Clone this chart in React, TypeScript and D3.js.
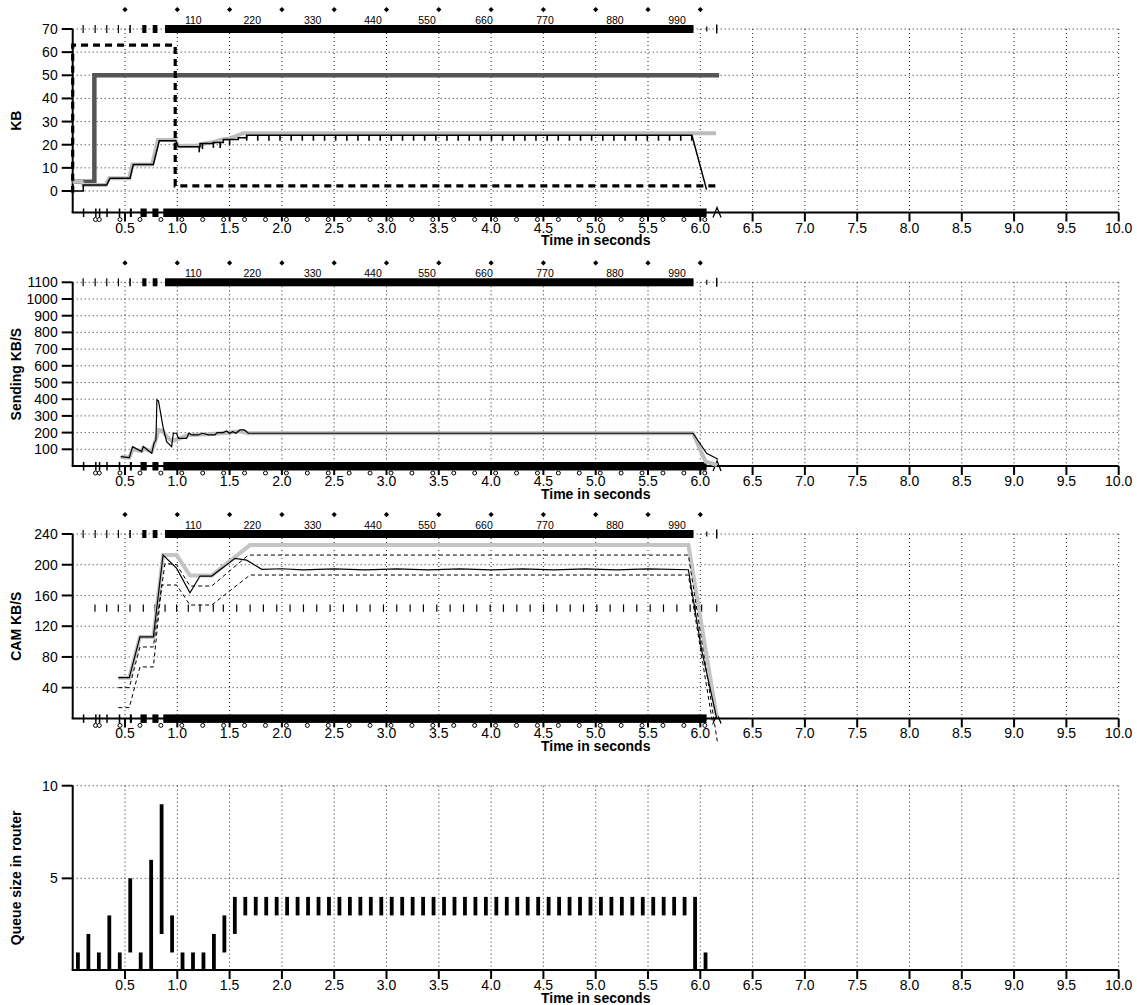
import React from 'react';
import * as d3 from 'd3';

type P = [number, number];
const FONT = '"Liberation Sans", Arial, Helvetica, sans-serif';
const W = 1137, H = 1005;

// ---------- axis ticks ----------
const timeTicks = [0.5, 1, 1.5, 2, 2.5, 3, 3.5, 4, 4.5, 5, 5.5, 6, 6.5, 7, 7.5, 8, 8.5, 9, 9.5, 10];
const kbTicks = [0, 10, 20, 30, 40, 50, 60, 70];
const sendTicks = [100, 200, 300, 400, 500, 600, 700, 800, 900, 1000, 1100];
const camTicks = [40, 80, 120, 160, 200, 240];
const queueTicks = [5, 10];

// ---------- top sequence axis ----------
const diamondTimes = [0.5, 1, 1.5, 2, 2.5, 3, 3.5, 4, 4.5, 5, 5.5, 6];
const seqLabels = ['110', '220', '330', '440', '550', '660', '770', '880', '990'];
const seqLabelTimes = [1.153, 1.717, 2.294, 2.871, 3.387, 3.932, 4.515, 5.184, 5.777];

// packet bands (time intervals)
const topBandSegments: P[] = [[0.094, 0.103], [0.209, 0.217], [0.32, 0.33], [0.431, 0.441], [0.541, 0.556], [0.665, 0.705], [0.765, 0.81], [0.883, 5.935]];
const topBandExtra = [6.062, 6.157];
const bottomBandSegments: P[] = [[0.097, 0.105], [0.214, 0.222], [0.25, 0.258], [0.321, 0.329], [0.44, 0.455], [0.546, 0.566], [0.648, 0.708], [0.762, 0.82], [0.866, 6.06]];
const ackCircleTimes = [0.218, 0.254, 0.452, 0.643, 0.843, 1.043, 1.243, 1.443, 1.643, 1.843, 2.043, 2.243, 2.443, 2.643, 2.843, 3.043, 3.243, 3.443, 3.643, 3.843, 4.043, 4.243, 4.443, 4.643, 4.843, 5.043, 5.243, 5.443, 5.643, 5.843, 6.043];
const finTime = 6.16;

// ---------- panel 1: KB ----------
const kbRwnd: P[] = [[0, 4], [0.207, 4], [0.207, 50], [6.18, 50]];
const kbFlight: P[] = [[0, 4], [0.085, 4], [0.1, 2.6], [0.315, 2.6], [0.35, 5.5], [0.54, 5.5], [0.57, 11.5], [0.76, 11.5], [0.815, 22], [0.98, 22], [1.01, 19.4], [1.2, 19.7], [1.26, 20.5], [1.35, 21.2], [1.42, 22.2], [1.5, 22.7], [1.56, 23.7], [1.63, 25], [6.15, 25]];
const kbCwnd: P[] = [[0, 0], [0.101, 0], [0.101, 2.6], [0.325, 2.6], [0.357, 5.5], [0.548, 5.5], [0.58, 11.5], [0.771, 11.5], [0.828, 21.7], [0.985, 21.7], [1.01, 19.1], [1.217, 19.1], [1.217, 20.5], [1.344, 20.5], [1.344, 21], [1.44, 21], [1.44, 22.3], [1.583, 22.3], [1.583, 23], [1.663, 23], [1.663, 24.1], [5.92, 24.1], [6.06, 0.6]];
const kbSsthresh: P[] = [[0, -0.8], [0, 63], [0.98, 63], [0.98, 2.2], [6.15, 2.2]];
const kbAckTicks = [1.21, 1.24, 1.345, 1.41, 1.5, 1.663, 1.769, 1.876, 1.982, 2.089, 2.195, 2.301, 2.408, 2.514, 2.621, 2.727, 2.833, 2.94, 3.046, 3.153, 3.259, 3.365, 3.472, 3.578, 3.685, 3.791, 3.897, 4.004, 4.11, 4.217, 4.323, 4.429, 4.536, 4.642, 4.749, 4.855, 4.961, 5.068, 5.174, 5.281, 5.387, 5.493, 5.6, 5.706, 5.813, 5.918];

// ---------- panel 2: Sending KB/S ----------
const sendRate: P[] = [[0.459, 56], [0.541, 50], [0.573, 116], [0.659, 86], [0.675, 116], [0.755, 76], [0.777, 136], [0.796, 156], [0.805, 396], [0.82, 390], [0.866, 226], [0.898, 146], [0.946, 116], [0.962, 196], [0.994, 196], [1.01, 166], [1.09, 166], [1.11, 196], [1.14, 186], [1.2, 186], [1.24, 196], [1.3, 186], [1.36, 186], [1.38, 200], [1.44, 200], [1.47, 210], [1.5, 196], [1.53, 206], [1.56, 196], [1.6, 216], [1.64, 216], [1.68, 196], [5.93, 196], [6.06, 76], [6.17, 40]];
const sendRateAvg: P[] = [[0.459, 56], [0.541, 50], [0.573, 100], [0.659, 90], [0.675, 106], [0.755, 86], [0.79, 150], [0.82, 216], [0.86, 210], [0.9, 175], [0.95, 150], [1.0, 160], [1.05, 172], [1.1, 185], [1.3, 190], [1.5, 200], [1.6, 208], [1.68, 196], [5.93, 196], [6.05, 26], [6.16, 6]];

// ---------- panel 3: CAM KB/S ----------
const camTarget: P[] = [[0.436, 53], [0.541, 53], [0.643, 106], [0.771, 106], [0.864, 212.6], [0.994, 212.6], [1.121, 186], [1.329, 186], [1.695, 225.6], [5.886, 225.6], [6.157, 2]];
const camRate: P[] = [[0.436, 53], [0.541, 53], [0.643, 106], [0.771, 106], [0.864, 212.6], [0.994, 195.3], [1.121, 163.6], [1.217, 185.3], [1.329, 185.3], [1.552, 208.3], [1.663, 206], [1.807, 194], [2.0, 194.8], [2.2, 193.2], [2.5, 194.6], [2.8, 193.2], [3.1, 194.6], [3.4, 193.2], [3.7, 194.6], [4.0, 193.2], [4.3, 194.6], [4.6, 193.2], [4.9, 194.6], [5.2, 193.2], [5.5, 194.6], [5.886, 193.5], [6.013, 89], [6.157, 0]];
const camUpper: P[] = [[0.436, 40], [0.541, 40], [0.643, 93], [0.771, 93], [0.882, 201.8], [0.994, 200], [1.121, 172.3], [1.329, 172.3], [1.68, 212.6], [5.886, 212.6], [6.165, -32]];
const camLower: P[] = [[0.436, 14], [0.541, 14], [0.643, 67], [0.771, 67], [0.851, 173.6], [0.994, 173.6], [1.121, 147.6], [1.329, 147.6], [1.695, 186.6], [5.886, 186.6], [6.12, -8]];
const camFrameLevel = 143.5;
const camFrameTimes = [0.213, 0.325, 0.436, 0.548, 0.675, 0.787, 0.883, 0.994, 1.105, 1.217, 1.344, 1.44, 1.568, 1.696, 1.823, 1.951, 2.078, 2.206, 2.333, 2.461, 2.588, 2.716, 2.843, 2.971, 3.098, 3.226, 3.353, 3.481, 3.608, 3.736, 3.863, 3.991, 4.118, 4.246, 4.373, 4.501, 4.628, 4.756, 4.883, 5.011, 5.138, 5.266, 5.393, 5.521, 5.648, 5.776, 5.903, 5.95, 6.013, 6.157];

// ---------- panel 4: queue ----------
const queueTimes = [0.05, 0.15, 0.25, 0.35, 0.45, 0.55, 0.65, 0.75, 0.85, 0.95, 1.05, 1.15, 1.25, 1.35, 1.45, 1.55, 1.65, 1.75, 1.85, 1.95, 2.05, 2.15, 2.25, 2.35, 2.45, 2.55, 2.65, 2.75, 2.85, 2.95, 3.05, 3.15, 3.25, 3.35, 3.45, 3.55, 3.65, 3.75, 3.85, 3.95, 4.05, 4.15, 4.25, 4.35, 4.45, 4.55, 4.65, 4.75, 4.85, 4.95, 5.05, 5.15, 5.25, 5.35, 5.45, 5.55, 5.65, 5.75, 5.85, 5.95, 6.05];
const queueLow = [0, 0, 0, 0, 0, 1, 0, 0, 2, 1, 0, 0, 0, 0, 1, 2, 3, 3, 3, 3, 3, 3, 3, 3, 3, 3, 3, 3, 3, 3, 3, 3, 3, 3, 3, 3, 3, 3, 3, 3, 3, 3, 3, 3, 3, 3, 3, 3, 3, 3, 3, 3, 3, 3, 3, 3, 3, 3, 3, 0, 0];
const queueHigh = [1, 2, 1, 3, 1, 5, 1, 6, 9, 3, 1, 1, 1, 2, 3, 4, 4, 4, 4, 4, 4, 4, 4, 4, 4, 4, 4, 4, 4, 4, 4, 4, 4, 4, 4, 4, 4, 4, 4, 4, 4, 4, 4, 4, 4, 4, 4, 4, 4, 4, 4, 4, 4, 4, 4, 4, 4, 4, 4, 4, 1];

// ---------- scales ----------
const x = d3.scaleLinear().domain([0, 10]).range([72.7, 1118.7]);
const X0 = x(0), X1 = x(10);

const y1 = d3.scaleLinear().domain([0, 70]).range([191, 29]);
const y2 = d3.scaleLinear().domain([0, 1100]).range([466, 282.3]);
const y3 = d3.scaleLinear().domain([0, 240]).range([718.4, 534]);
const y4 = d3.scaleLinear().domain([0, 10]).range([971, 785.7]);

const fmt = d3.format('.1f');

function valueAt(series: P[], t: number): number {
  for (let i = series.length - 1; i >= 0; i--) {
    if (series[i][0] <= t) {
      const a = series[i], b = series[i + 1];
      if (!b || b[0] === a[0]) return a[1];
      return a[1] + (b[1] - a[1]) * (t - a[0]) / (b[0] - a[0]);
    }
  }
  return series[0][1];
}

function linePath(y: d3.ScaleLinear<number, number>, data: P[]) {
  return d3.line<P>().x(d => x(d[0])).y(d => y(d[1]))(data) || '';
}

function Frame({ y, yTicks, top, axisY, label, showDecor }: { y: d3.ScaleLinear<number, number>; yTicks: number[]; top: number; axisY: number; label: string; showDecor: boolean }) {
  const midY = (top + axisY) / 2;
  return (
    <g>
      {/* grid */}
      {timeTicks.map(t => (
        <line key={'gv' + t} x1={x(t)} x2={x(t)} y1={top} y2={axisY} stroke="#222" strokeWidth={1} strokeDasharray="1 3" />
      ))}
      {yTicks.map(v => (
        <line key={'gh' + v} x1={X0} x2={X1} y1={y(v)} y2={y(v)} stroke="#222" strokeWidth={1} strokeDasharray="1 3" />
      ))}
      {/* y axis */}
      <line x1={X0} x2={X0} y1={top} y2={axisY} stroke="#000" strokeWidth={2} />
      {yTicks.map(v => (
        <g key={'yt' + v}>
          <line x1={X0 - 11} x2={X0} y1={y(v)} y2={y(v)} stroke="#000" strokeWidth={2} />
          <text x={X0 - 15} y={y(v)} dy="0.36em" textAnchor="end" fontSize={14} fontFamily={FONT}>{v}</text>
        </g>
      ))}
      <text transform={`translate(21,${midY}) rotate(-90)`} textAnchor="middle" fontSize={14} fontWeight="bold" fontFamily={FONT}>{label}</text>
      {/* x axis */}
      <line x1={X0 - 1} x2={X1} y1={axisY} y2={axisY} stroke="#000" strokeWidth={2} />
      {timeTicks.map(t => (
        <g key={'xt' + t}>
          <line x1={x(t)} x2={x(t)} y1={axisY} y2={axisY + 9} stroke="#000" strokeWidth={2} />
          <text x={x(t)} y={axisY + 20} textAnchor="middle" fontSize={14} fontFamily={FONT}>{fmt(t)}</text>
        </g>
      ))}
      <text x={(X0 + X1) / 2} y={axisY + 32.5} textAnchor="middle" fontSize={14} fontWeight="bold" fontFamily={FONT}>Time in seconds</text>
      {showDecor && (
        <g>
          {diamondTimes.map(t => (
            <path key={'dm' + t} d={`M${x(t)},${top - 22} l2.6,2.6 l-2.6,2.6 l-2.6,-2.6 z`} fill="#000" />
          ))}
          {seqLabels.map((s, i) => (
            <text key={'sl' + s} x={x(seqLabelTimes[i])} y={top - 5} textAnchor="middle" fontSize={10.5} fontFamily={FONT}>{s}</text>
          ))}
          {topBandSegments.map((s, i) => (
            <rect key={'tb' + i} x={x(s[0])} y={top - 4} width={Math.max(1.2, x(s[1]) - x(s[0]))} height={8} fill="#000" />
          ))}
          <line x1={x(topBandExtra[0])} x2={x(topBandExtra[0])} y1={top - 2.5} y2={top + 2.5} stroke="#000" strokeWidth={1.2} />
          <line x1={x(topBandExtra[1])} x2={x(topBandExtra[1])} y1={top - 4.5} y2={top + 4.5} stroke="#000" strokeWidth={1.4} />
          {bottomBandSegments.map((s, i) => (
            <rect key={'bb' + i} x={x(s[0])} y={axisY - 4} width={Math.max(1.5, x(s[1]) - x(s[0]))} height={8.5} fill="#000" />
          ))}
          {ackCircleTimes.map((t, i) => (
            <circle key={'ac' + i} cx={x(t)} cy={axisY + 7} r={2} fill="#fff" stroke="#000" strokeWidth={1} />
          ))}
          <path d={`M${x(finTime) - 4},${axisY + 5} L${x(finTime)},${axisY - 5} L${x(finTime) + 4},${axisY + 5}`} fill="none" stroke="#000" strokeWidth={1.3} />
        </g>
      )}
    </g>
  );
}

export default function App() {
  const ax1 = 212.5, ax2 = 466, ax3 = 718.4, ax4 = 970;
  return (
    <svg width={W} height={H} viewBox={`0 0 ${W} ${H}`} style={{ position: 'absolute', left: 0, top: 0, background: '#fff' }}>
      <rect x={0} y={0} width={W} height={H} fill="#fff" />

      {/* Panel 1 */}
      <Frame y={y1} yTicks={kbTicks} top={y1(70)} axisY={ax1} label="KB" showDecor={true} />
      <path d={linePath(y1, kbRwnd)} fill="none" stroke="#555" strokeWidth={4.5} />
      <path d={linePath(y1, kbFlight)} fill="none" stroke="#bdbdbd" strokeWidth={4} />
      <path d={linePath(y1, kbCwnd)} fill="none" stroke="#000" strokeWidth={1.5} />
      {kbAckTicks.map((t, i) => {
        const v = valueAt(kbCwnd, t);
        return <line key={'ak' + i} x1={x(t)} x2={x(t)} y1={y1(v)} y2={y1(v) + 5.5} stroke="#000" strokeWidth={1.6} />;
      })}
      <path d={linePath(y1, kbSsthresh)} fill="none" stroke="#000" strokeWidth={3.2} strokeDasharray="7 5" />

      {/* Panel 2 */}
      <Frame y={y2} yTicks={sendTicks} top={y2(1100)} axisY={ax2} label="Sending  KB/S" showDecor={true} />
      <path d={linePath(y2, sendRateAvg)} fill="none" stroke="#bdbdbd" strokeWidth={4} />
      <path d={linePath(y2, sendRate)} fill="none" stroke="#000" strokeWidth={1.2} />

      {/* Panel 3 */}
      <Frame y={y3} yTicks={camTicks} top={y3(240)} axisY={ax3} label="CAM KB/S" showDecor={true} />
      {camFrameTimes.map((t, i) => (
        <line key={'cf' + i} x1={x(t)} x2={x(t)} y1={y3(camFrameLevel) - 3.7} y2={y3(camFrameLevel) + 3.7} stroke="#000" strokeWidth={1.2} />
      ))}
      <path d={linePath(y3, camTarget)} fill="none" stroke="#c4c4c4" strokeWidth={4} />
      <path d={linePath(y3, camUpper)} fill="none" stroke="#000" strokeWidth={1} strokeDasharray="4 3" />
      <path d={linePath(y3, camLower)} fill="none" stroke="#000" strokeWidth={1} strokeDasharray="4 3" />
      <path d={linePath(y3, camRate)} fill="none" stroke="#000" strokeWidth={1.2} />

      {/* Panel 4 */}
      <Frame y={y4} yTicks={queueTicks} top={y4(10)} axisY={ax4} label="Queue size in router" showDecor={false} />
      {queueTimes.map((t, i) => (
        <line key={'q' + i} x1={x(t)} x2={x(t)} y1={y4(queueLow[i])} y2={y4(queueHigh[i])} stroke="#000" strokeWidth={3.8} />
      ))}
    </svg>
  );
}
